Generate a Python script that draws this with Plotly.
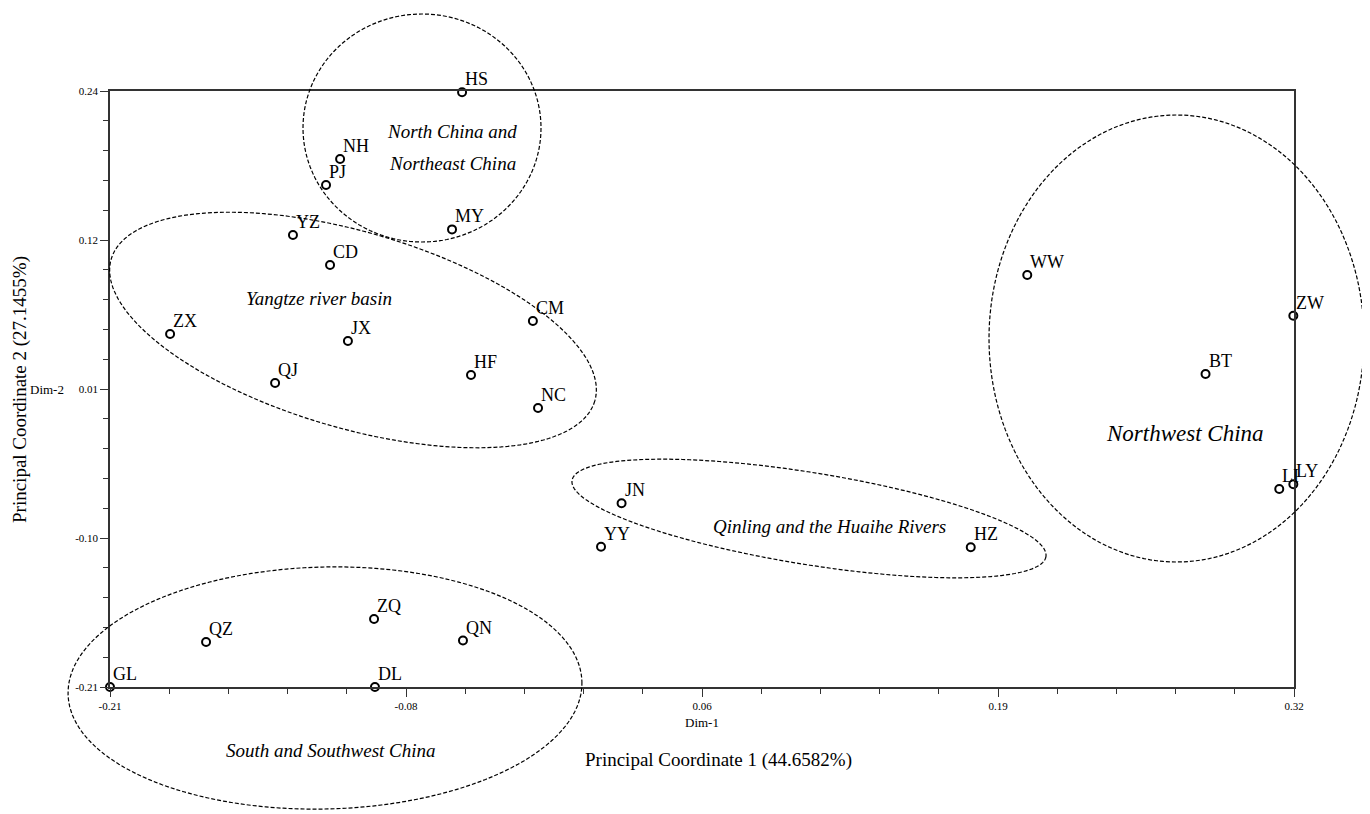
import numpy as np
import plotly.graph_objects as go

# ---- data (Principal coordinates) ----
sites = ["HS", "NH", "PJ", "MY", "YZ", "CD", "ZX", "JX", "CM", "QJ", "HF", "NC",
         "JN", "YY", "HZ", "WW", "ZW", "BT", "LI", "LY", "QZ", "ZQ", "QN", "DL", "GL"]
pc1 = [-0.0524, -0.1070, -0.1133, -0.0569, -0.1281, -0.1115, -0.1831, -0.1035, -0.0207,
       -0.1361, -0.0484, -0.0184, 0.0190, 0.0098, 0.1753, 0.2006, 0.3197, 0.2804,
       0.3134, 0.3197, -0.1670, -0.0918, -0.0520, -0.0914, -0.2100]
pc2 = [0.2390, 0.1887, 0.1690, 0.1355, 0.1313, 0.1086, 0.0565, 0.0513, 0.0663,
       0.0195, 0.0256, 0.0007, -0.0713, -0.1041, -0.1045, 0.1011, 0.0703, 0.0263,
       -0.0605, -0.0569, -0.1760, -0.1587, -0.1749, -0.2100, -0.2100]

x_ticktext = ["-0.21", "-0.08", "0.06", "0.19", "0.32"]
y_ticktext = ["-0.21", "-0.10", "0.01", "0.12", "0.24"]

XMIN, XMAX = -0.21, 0.32
YMIN, YMAX = -0.21, 0.24

# ---- layout geometry (page body adds an 8px offset) ----
OFF = 8
W, H = 1370 - OFF, 814 - OFF
ML, MT = 110 - OFF, 91 - OFF
PW, PH = 1184, 596
MR, MB = W - ML - PW, H - MT - PH
FONT = "Liberation Serif, Times New Roman, serif"


def px2paper(X, Y):
    """screen pixel (reference coords) -> paper fraction"""
    return (X - OFF - ML) / PW, (MT + PH - (Y - OFF)) / PH


# group ellipses (screen centre, semi-axes, rotation in degrees)
ellipses = [
    (422, 128, 119, 114, 0.0),
    (353, 330, 252, 98, 16.35),
    (809, 518.5, 240, 46, 9.15),
    (1176.5, 338.5, 187.5, 223.5, 0.0),
    (325, 688, 257, 121, -1.4),
]

shapes = []
t = np.linspace(0, 2 * np.pi, 181)
for cx, cy, a, b, ang in ellipses:
    th = np.deg2rad(ang)
    X = cx + a * np.cos(t) * np.cos(th) - b * np.sin(t) * np.sin(th)
    Y = cy + a * np.cos(t) * np.sin(th) + b * np.sin(t) * np.cos(th)
    pts = [px2paper(xx, yy) for xx, yy in zip(X, Y)]
    path = "M " + " L ".join(f"{p[0]:.5f},{p[1]:.5f}" for p in pts) + " Z"
    shapes.append(dict(type="path", xref="paper", yref="paper", path=path,
                       line=dict(color="black", width=1.2, dash="4px,2px"),
                       layer="above"))

fig = go.Figure()
fig.add_trace(go.Scatter(
    x=pc1, y=pc2, text=sites, mode="markers",
    marker=dict(symbol="circle", size=8, color="white",
                line=dict(color="black", width=2)),
    cliponaxis=False, showlegend=False, hoverinfo="text"))

xt = np.linspace(XMIN, XMAX, 5)
yt = np.linspace(YMIN, YMAX, 5)
xminor = [v for i, v in enumerate(np.linspace(XMIN, XMAX, 21)) if i % 5]
yminor = [v for i, v in enumerate(np.linspace(YMIN, YMAX, 21)) if i % 5]

axis_common = dict(showgrid=False, zeroline=False, showline=True, linecolor="#333",
                   linewidth=1.5, mirror=True, ticks="outside", ticklen=8,
                   tickwidth=1.2, tickcolor="#333", automargin=False,
                   tickfont=dict(family=FONT, size=11, color="black"),
                   tickmode="array")

fig.update_xaxes(range=[XMIN, XMAX], tickvals=xt, ticktext=x_ticktext,
                 minor=dict(tickmode="array", tickvals=xminor, ticklen=5,
                            tickwidth=1, tickcolor="#333", ticks="outside"),
                 **axis_common)
fig.update_yaxes(range=[YMIN, YMAX], tickvals=yt, ticktext=y_ticktext,
                 minor=dict(tickmode="array", tickvals=yminor, ticklen=5,
                            tickwidth=1, tickcolor="#333", ticks="outside"),
                 **axis_common)

annots = []

# point labels, placed just above-right of each marker
for name, xv, yv in zip(sites, pc1, pc2):
    annots.append(dict(text=name, x=xv, y=yv, xref="x", yref="y", showarrow=False,
                       xanchor="left", yanchor="middle", xshift=1, yshift=13,
                       font=dict(family=FONT, size=18, color="black")))


def add_text(txt, X, Y, size, italic=False, angle=0):
    xp, yp = px2paper(X, Y)
    annots.append(dict(text=f"<i>{txt}</i>" if italic else txt, x=xp, y=yp,
                       xref="paper", yref="paper", showarrow=False,
                       xanchor="center", yanchor="middle", textangle=angle,
                       font=dict(family=FONT, size=size, color="black")))


add_text("North China and", 452, 131, 19, True)
add_text("Northeast China", 452, 164, 19, True)
add_text("Yangtze river basin", 319, 298, 19, True)
add_text("Qinling and the Huaihe Rivers", 829, 526, 19, True)
add_text("Northwest China", 1185, 433, 23, True)
add_text("South and Southwest China", 331, 750, 19, True)
add_text("Principal Coordinate 1 (44.6582%)", 718, 760, 19)
add_text("Principal Coordinate 2 (27.1455%)", 20, 390, 19, angle=-90)
add_text("Dim-1", 702, 722, 13)
add_text("Dim-2", 47, 389, 13)

fig.update_layout(width=W, height=H, margin=dict(l=ML, r=MR, t=MT, b=MB, autoexpand=False),
                  paper_bgcolor="white", plot_bgcolor="white",
                  shapes=shapes, annotations=annots, showlegend=False)

fig.write_html("out.html")
